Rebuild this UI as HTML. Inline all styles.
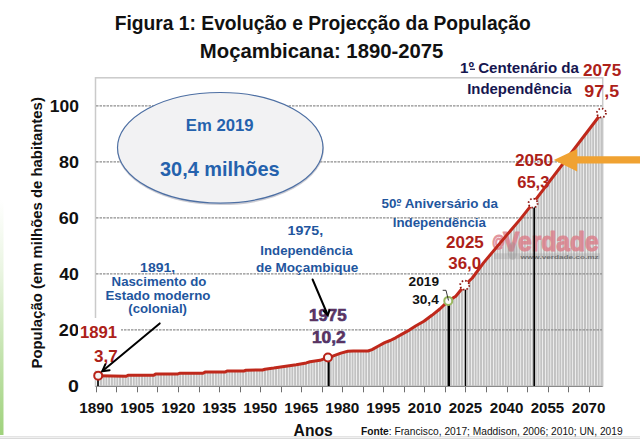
<!DOCTYPE html>
<html><head><meta charset="utf-8"><style>
html,body{margin:0;padding:0;background:#fff;}
body{width:640px;height:439px;overflow:hidden;position:relative;}
svg{position:absolute;left:0;top:0;}
text{font-family:"Liberation Sans",sans-serif;font-weight:bold;}
</style></head><body>
<svg width="640" height="439" viewBox="0 0 640 439">
<defs>
<linearGradient id="lg" x1="0" y1="0" x2="0" y2="1">
<stop offset="0" stop-color="#ffffff"/><stop offset="0.3" stop-color="#eaf5e2"/><stop offset="1" stop-color="#9fd27c"/>
</linearGradient>
</defs>
<rect x="0" y="200" width="3.5" height="235" fill="url(#lg)"/>
<rect x="0" y="436" width="640" height="1" fill="#e4e4e4"/><rect x="0" y="437" width="640" height="1" fill="#f0f0f0"/><rect x="0" y="438" width="640" height="1" fill="#dadada"/>
<text x="114.71" y="30" font-size="19.8" fill="#111" textLength="416.04" lengthAdjust="spacingAndGlyphs">Figura 1: Evolução e Projecção da População</text>
<text x="199.89" y="57.9" font-size="19.8" fill="#111" textLength="243.47" lengthAdjust="spacingAndGlyphs">Moçambicana: 1890-2075</text>
<rect x="95.5" y="77.8" width="507.2" height="308.2" fill="#fff" stroke="#cacaca" stroke-width="1.5"/>
<g fill="#c2c2c2">
<rect x="97.18" y="375.64" width="2.05" height="10.36"/>
<rect x="99.91" y="375.69" width="2.05" height="10.31"/>
<rect x="102.65" y="375.75" width="2.05" height="10.25"/>
<rect x="105.38" y="375.80" width="2.05" height="10.20"/>
<rect x="108.12" y="375.86" width="2.05" height="10.14"/>
<rect x="110.85" y="375.91" width="2.05" height="10.09"/>
<rect x="113.59" y="375.97" width="2.05" height="10.03"/>
<rect x="116.32" y="376.02" width="2.05" height="9.98"/>
<rect x="119.06" y="376.08" width="2.05" height="9.92"/>
<rect x="121.79" y="376.13" width="2.05" height="9.87"/>
<rect x="124.53" y="376.19" width="2.05" height="9.81"/>
<rect x="127.26" y="375.20" width="2.05" height="10.80"/>
<rect x="130.00" y="375.20" width="2.05" height="10.80"/>
<rect x="132.73" y="375.20" width="2.05" height="10.80"/>
<rect x="135.47" y="375.20" width="2.05" height="10.80"/>
<rect x="138.20" y="375.20" width="2.05" height="10.80"/>
<rect x="140.94" y="375.20" width="2.05" height="10.80"/>
<rect x="143.67" y="375.20" width="2.05" height="10.80"/>
<rect x="146.41" y="375.20" width="2.05" height="10.80"/>
<rect x="149.14" y="375.20" width="2.05" height="10.80"/>
<rect x="151.88" y="375.20" width="2.05" height="10.80"/>
<rect x="154.61" y="373.90" width="2.05" height="12.10"/>
<rect x="157.35" y="373.90" width="2.05" height="12.10"/>
<rect x="160.08" y="373.90" width="2.05" height="12.10"/>
<rect x="162.81" y="373.90" width="2.05" height="12.10"/>
<rect x="165.55" y="373.90" width="2.05" height="12.10"/>
<rect x="168.28" y="373.90" width="2.05" height="12.10"/>
<rect x="171.02" y="373.90" width="2.05" height="12.10"/>
<rect x="173.75" y="373.90" width="2.05" height="12.10"/>
<rect x="176.49" y="373.90" width="2.05" height="12.10"/>
<rect x="179.22" y="373.20" width="2.05" height="12.80"/>
<rect x="181.96" y="373.20" width="2.05" height="12.80"/>
<rect x="184.69" y="373.20" width="2.05" height="12.80"/>
<rect x="187.43" y="373.20" width="2.05" height="12.80"/>
<rect x="190.16" y="373.20" width="2.05" height="12.80"/>
<rect x="192.90" y="373.20" width="2.05" height="12.80"/>
<rect x="195.63" y="373.20" width="2.05" height="12.80"/>
<rect x="198.37" y="373.20" width="2.05" height="12.80"/>
<rect x="201.10" y="373.20" width="2.05" height="12.80"/>
<rect x="203.84" y="372.18" width="2.05" height="13.82"/>
<rect x="206.57" y="372.10" width="2.05" height="13.90"/>
<rect x="209.31" y="372.10" width="2.05" height="13.90"/>
<rect x="212.04" y="372.10" width="2.05" height="13.90"/>
<rect x="214.78" y="372.10" width="2.05" height="13.90"/>
<rect x="217.51" y="372.10" width="2.05" height="13.90"/>
<rect x="220.25" y="372.10" width="2.05" height="13.90"/>
<rect x="222.98" y="372.10" width="2.05" height="13.90"/>
<rect x="225.72" y="371.14" width="2.05" height="14.86"/>
<rect x="228.45" y="371.00" width="2.05" height="15.00"/>
<rect x="231.19" y="371.00" width="2.05" height="15.00"/>
<rect x="233.92" y="371.00" width="2.05" height="15.00"/>
<rect x="236.65" y="371.00" width="2.05" height="15.00"/>
<rect x="239.39" y="371.00" width="2.05" height="15.00"/>
<rect x="242.12" y="371.00" width="2.05" height="15.00"/>
<rect x="244.86" y="370.25" width="2.05" height="15.75"/>
<rect x="247.59" y="370.17" width="2.05" height="15.83"/>
<rect x="250.33" y="370.14" width="2.05" height="15.86"/>
<rect x="253.06" y="370.10" width="2.05" height="15.90"/>
<rect x="255.80" y="370.07" width="2.05" height="15.93"/>
<rect x="258.53" y="370.04" width="2.05" height="15.96"/>
<rect x="261.27" y="370.00" width="2.05" height="16.00"/>
<rect x="264.00" y="369.20" width="2.05" height="16.80"/>
<rect x="266.74" y="368.85" width="2.05" height="17.15"/>
<rect x="269.47" y="368.51" width="2.05" height="17.49"/>
<rect x="272.21" y="368.17" width="2.05" height="17.83"/>
<rect x="274.94" y="367.76" width="2.05" height="18.24"/>
<rect x="277.68" y="367.34" width="2.05" height="18.66"/>
<rect x="280.41" y="366.93" width="2.05" height="19.07"/>
<rect x="283.15" y="366.51" width="2.05" height="19.49"/>
<rect x="285.88" y="366.09" width="2.05" height="19.91"/>
<rect x="288.62" y="365.68" width="2.05" height="20.32"/>
<rect x="291.35" y="365.28" width="2.05" height="20.72"/>
<rect x="294.09" y="364.87" width="2.05" height="21.13"/>
<rect x="296.82" y="364.41" width="2.05" height="21.59"/>
<rect x="299.56" y="363.92" width="2.05" height="22.08"/>
<rect x="302.29" y="363.43" width="2.05" height="22.57"/>
<rect x="305.02" y="362.94" width="2.05" height="23.06"/>
<rect x="307.76" y="362.09" width="2.05" height="23.91"/>
<rect x="310.49" y="361.49" width="2.05" height="24.51"/>
<rect x="313.23" y="361.10" width="2.05" height="24.90"/>
<rect x="315.96" y="360.72" width="2.05" height="25.28"/>
<rect x="318.70" y="360.34" width="2.05" height="25.66"/>
<rect x="321.43" y="359.41" width="2.05" height="26.59"/>
<rect x="324.17" y="358.42" width="2.05" height="27.58"/>
<rect x="326.90" y="357.43" width="2.05" height="28.57"/>
<rect x="329.64" y="356.73" width="2.05" height="29.27"/>
<rect x="332.37" y="355.94" width="2.05" height="30.06"/>
<rect x="335.11" y="354.90" width="2.05" height="31.10"/>
<rect x="337.84" y="353.87" width="2.05" height="32.13"/>
<rect x="340.58" y="352.92" width="2.05" height="33.08"/>
<rect x="343.31" y="352.20" width="2.05" height="33.80"/>
<rect x="346.05" y="351.49" width="2.05" height="34.51"/>
<rect x="348.78" y="351.19" width="2.05" height="34.81"/>
<rect x="351.52" y="351.04" width="2.05" height="34.96"/>
<rect x="354.25" y="351.00" width="2.05" height="35.00"/>
<rect x="356.99" y="351.00" width="2.05" height="35.00"/>
<rect x="359.72" y="351.00" width="2.05" height="35.00"/>
<rect x="362.46" y="351.00" width="2.05" height="35.00"/>
<rect x="365.19" y="351.00" width="2.05" height="35.00"/>
<rect x="367.93" y="350.67" width="2.05" height="35.33"/>
<rect x="370.66" y="349.71" width="2.05" height="36.29"/>
<rect x="373.39" y="348.26" width="2.05" height="37.74"/>
<rect x="376.13" y="346.75" width="2.05" height="39.25"/>
<rect x="378.86" y="345.24" width="2.05" height="40.76"/>
<rect x="381.60" y="343.74" width="2.05" height="42.26"/>
<rect x="384.33" y="342.35" width="2.05" height="43.65"/>
<rect x="387.07" y="341.30" width="2.05" height="44.70"/>
<rect x="389.80" y="340.19" width="2.05" height="45.81"/>
<rect x="392.54" y="338.82" width="2.05" height="47.18"/>
<rect x="395.27" y="337.41" width="2.05" height="48.59"/>
<rect x="398.01" y="335.86" width="2.05" height="50.14"/>
<rect x="400.74" y="334.31" width="2.05" height="51.69"/>
<rect x="403.48" y="332.78" width="2.05" height="53.22"/>
<rect x="406.21" y="331.25" width="2.05" height="54.75"/>
<rect x="408.95" y="329.67" width="2.05" height="56.33"/>
<rect x="411.68" y="327.91" width="2.05" height="58.09"/>
<rect x="414.42" y="326.16" width="2.05" height="59.84"/>
<rect x="417.15" y="324.56" width="2.05" height="61.44"/>
<rect x="419.89" y="323.00" width="2.05" height="63.00"/>
<rect x="422.62" y="321.44" width="2.05" height="64.56"/>
<rect x="425.36" y="319.44" width="2.05" height="66.56"/>
<rect x="428.09" y="317.39" width="2.05" height="68.61"/>
<rect x="430.83" y="315.34" width="2.05" height="70.66"/>
<rect x="433.56" y="313.16" width="2.05" height="72.84"/>
<rect x="436.29" y="310.98" width="2.05" height="75.02"/>
<rect x="439.03" y="308.76" width="2.05" height="77.24"/>
<rect x="441.76" y="306.14" width="2.05" height="79.86"/>
<rect x="444.50" y="303.53" width="2.05" height="82.47"/>
<rect x="447.23" y="300.92" width="2.05" height="85.08"/>
<rect x="449.97" y="299.23" width="2.05" height="86.77"/>
<rect x="452.70" y="297.56" width="2.05" height="88.44"/>
<rect x="455.44" y="295.47" width="2.05" height="90.53"/>
<rect x="458.17" y="292.06" width="2.05" height="93.94"/>
<rect x="460.91" y="288.65" width="2.05" height="97.35"/>
<rect x="463.64" y="285.24" width="2.05" height="100.76"/>
<rect x="466.38" y="282.64" width="2.05" height="103.36"/>
<rect x="469.11" y="280.05" width="2.05" height="105.95"/>
<rect x="471.85" y="277.23" width="2.05" height="108.77"/>
<rect x="474.58" y="273.54" width="2.05" height="112.46"/>
<rect x="477.32" y="269.85" width="2.05" height="116.15"/>
<rect x="480.05" y="266.17" width="2.05" height="119.83"/>
<rect x="482.79" y="262.53" width="2.05" height="123.47"/>
<rect x="485.52" y="259.25" width="2.05" height="126.75"/>
<rect x="488.26" y="255.98" width="2.05" height="130.02"/>
<rect x="490.99" y="252.70" width="2.05" height="133.30"/>
<rect x="493.73" y="249.43" width="2.05" height="136.57"/>
<rect x="496.46" y="246.15" width="2.05" height="139.85"/>
<rect x="499.20" y="242.88" width="2.05" height="143.12"/>
<rect x="501.93" y="239.60" width="2.05" height="146.40"/>
<rect x="504.66" y="236.33" width="2.05" height="149.67"/>
<rect x="507.40" y="233.10" width="2.05" height="152.90"/>
<rect x="510.13" y="229.88" width="2.05" height="156.12"/>
<rect x="512.87" y="226.67" width="2.05" height="159.33"/>
<rect x="515.60" y="223.45" width="2.05" height="162.55"/>
<rect x="518.34" y="220.23" width="2.05" height="165.77"/>
<rect x="521.07" y="216.84" width="2.05" height="169.16"/>
<rect x="523.81" y="213.41" width="2.05" height="172.59"/>
<rect x="526.54" y="209.98" width="2.05" height="176.02"/>
<rect x="529.28" y="206.54" width="2.05" height="179.46"/>
<rect x="532.01" y="203.11" width="2.05" height="182.89"/>
<rect x="534.75" y="199.52" width="2.05" height="186.48"/>
<rect x="537.48" y="195.92" width="2.05" height="190.08"/>
<rect x="540.22" y="192.33" width="2.05" height="193.67"/>
<rect x="542.95" y="188.73" width="2.05" height="197.27"/>
<rect x="545.69" y="185.14" width="2.05" height="200.86"/>
<rect x="548.42" y="181.54" width="2.05" height="204.46"/>
<rect x="551.16" y="177.95" width="2.05" height="208.05"/>
<rect x="553.89" y="174.36" width="2.05" height="211.64"/>
<rect x="556.63" y="170.76" width="2.05" height="215.24"/>
<rect x="559.36" y="167.17" width="2.05" height="218.83"/>
<rect x="562.10" y="163.57" width="2.05" height="222.43"/>
<rect x="564.83" y="159.98" width="2.05" height="226.02"/>
<rect x="567.57" y="156.38" width="2.05" height="229.62"/>
<rect x="570.30" y="152.79" width="2.05" height="233.21"/>
<rect x="573.03" y="149.20" width="2.05" height="236.80"/>
<rect x="575.77" y="145.60" width="2.05" height="240.40"/>
<rect x="578.50" y="142.01" width="2.05" height="243.99"/>
<rect x="581.24" y="138.41" width="2.05" height="247.59"/>
<rect x="583.97" y="134.82" width="2.05" height="251.18"/>
<rect x="586.71" y="131.22" width="2.05" height="254.78"/>
<rect x="589.44" y="127.63" width="2.05" height="258.37"/>
<rect x="592.18" y="124.04" width="2.05" height="261.96"/>
<rect x="594.91" y="120.44" width="2.05" height="265.56"/>
<rect x="597.65" y="116.85" width="2.05" height="269.15"/>
<rect x="600.38" y="113.25" width="2.05" height="272.75"/>
</g>
<g stroke="#8e8e8e" stroke-width="1.2" stroke-dasharray="2.5,1"><line x1="96" y1="329.8" x2="602" y2="329.8"/><line x1="96" y1="273.8" x2="602" y2="273.8"/><line x1="96" y1="217.8" x2="602" y2="217.8"/><line x1="96" y1="161.8" x2="602" y2="161.8"/><line x1="96" y1="105.8" x2="602" y2="105.8"/></g>
<line x1="95.5" y1="386.5" x2="602.7" y2="386.5" stroke="#8a8a8a" stroke-width="1"/>
<g stroke="#6e6e6e" stroke-width="1"><line x1="96.5" y1="387" x2="96.5" y2="392.3"/><line x1="116.5" y1="387" x2="116.5" y2="392.3"/><line x1="137.5" y1="387" x2="137.5" y2="392.3"/><line x1="157.5" y1="387" x2="157.5" y2="392.3"/><line x1="178.5" y1="387" x2="178.5" y2="392.3"/><line x1="199.5" y1="387" x2="199.5" y2="392.3"/><line x1="219.5" y1="387" x2="219.5" y2="392.3"/><line x1="240.5" y1="387" x2="240.5" y2="392.3"/><line x1="260.5" y1="387" x2="260.5" y2="392.3"/><line x1="281.5" y1="387" x2="281.5" y2="392.3"/><line x1="301.5" y1="387" x2="301.5" y2="392.3"/><line x1="322.5" y1="387" x2="322.5" y2="392.3"/><line x1="342.5" y1="387" x2="342.5" y2="392.3"/><line x1="363.5" y1="387" x2="363.5" y2="392.3"/><line x1="383.5" y1="387" x2="383.5" y2="392.3"/><line x1="404.5" y1="387" x2="404.5" y2="392.3"/><line x1="424.5" y1="387" x2="424.5" y2="392.3"/><line x1="445.5" y1="387" x2="445.5" y2="392.3"/><line x1="465.5" y1="387" x2="465.5" y2="392.3"/><line x1="486.5" y1="387" x2="486.5" y2="392.3"/><line x1="507.5" y1="387" x2="507.5" y2="392.3"/><line x1="527.5" y1="387" x2="527.5" y2="392.3"/><line x1="548.5" y1="387" x2="548.5" y2="392.3"/><line x1="568.5" y1="387" x2="568.5" y2="392.3"/><line x1="589.5" y1="387" x2="589.5" y2="392.3"/></g>
<g fill="#111"><text x="79.28" y="413.3" font-size="15.2" textLength="34.09" lengthAdjust="spacingAndGlyphs">1890</text><text x="120.29" y="413.3" font-size="15.2" textLength="33.88" lengthAdjust="spacingAndGlyphs">1905</text><text x="161.28" y="413.3" font-size="15.2" textLength="34.09" lengthAdjust="spacingAndGlyphs">1920</text><text x="202.29" y="413.3" font-size="15.2" textLength="33.88" lengthAdjust="spacingAndGlyphs">1935</text><text x="243.28" y="413.3" font-size="15.2" textLength="34.09" lengthAdjust="spacingAndGlyphs">1950</text><text x="284.29" y="413.3" font-size="15.2" textLength="33.88" lengthAdjust="spacingAndGlyphs">1965</text><text x="325.28" y="413.3" font-size="15.2" textLength="34.09" lengthAdjust="spacingAndGlyphs">1980</text><text x="366.29" y="413.3" font-size="15.2" textLength="33.88" lengthAdjust="spacingAndGlyphs">1995</text><text x="407.73" y="413.3" font-size="15.2" textLength="33.64" lengthAdjust="spacingAndGlyphs">2010</text><text x="448.73" y="413.3" font-size="15.2" textLength="33.44" lengthAdjust="spacingAndGlyphs">2025</text><text x="489.73" y="413.3" font-size="15.2" textLength="33.64" lengthAdjust="spacingAndGlyphs">2040</text><text x="530.73" y="413.3" font-size="15.2" textLength="33.44" lengthAdjust="spacingAndGlyphs">2055</text><text x="571.73" y="413.3" font-size="15.2" textLength="33.64" lengthAdjust="spacingAndGlyphs">2070</text></g>
<g fill="#111"><text x="68.13" y="391.9" font-size="16.2" textLength="10.88" lengthAdjust="spacingAndGlyphs">0</text><text x="58.87" y="335.9" font-size="16.2" textLength="20.07" lengthAdjust="spacingAndGlyphs">20</text><text x="59.23" y="279.9" font-size="16.2" textLength="19.69" lengthAdjust="spacingAndGlyphs">40</text><text x="58.84" y="223.9" font-size="16.2" textLength="20.10" lengthAdjust="spacingAndGlyphs">60</text><text x="58.93" y="167.9" font-size="16.2" textLength="20.01" lengthAdjust="spacingAndGlyphs">80</text><text x="49.80" y="111.9" font-size="16.2" textLength="29.11" lengthAdjust="spacingAndGlyphs">100</text></g>
<text transform="translate(41.9,232.7) rotate(-90)" x="-135.80" y="0" font-size="15.2" fill="#111" textLength="271.34" lengthAdjust="spacingAndGlyphs">População (em milhões de habitantes)</text>
<text x="293.61" y="436" font-size="16" fill="#111" textLength="39.03" lengthAdjust="spacingAndGlyphs">Anos</text>
<text x="361" y="434.7" font-size="10.5" fill="#111" textLength="261.6" lengthAdjust="spacingAndGlyphs">Fonte<tspan font-weight="normal">: Francisco, 2017; Maddison, 2006; 2010; UN, 2019</tspan></text>
<g opacity="0.8" fill="#dc7c88" stroke="#dc7c88" stroke-width="1.1" stroke-linejoin="round">
<text x="492.2" y="247.3" font-size="15.7" textLength="12.6" lengthAdjust="spacingAndGlyphs">@</text>
<text x="503" y="250.6" font-size="27.2" textLength="95.8" lengthAdjust="spacingAndGlyphs">Verdade</text>
</g>
<rect x="494" y="253.3" width="106" height="5.8" fill="#808080" opacity="0.22"/>
<ellipse cx="512.5" cy="251" rx="5" ry="9" fill="#909090" opacity="0.3"/>
<text x="520.6" y="258.6" font-size="6.2" fill="#555" opacity="0.75" textLength="78" lengthAdjust="spacingAndGlyphs">www.verdade.co.mz</text>
<rect x="78" y="318" width="43" height="52.5" fill="#fff"/>
<g stroke="#000">
<line x1="98.00" y1="378" x2="98.00" y2="386" stroke-width="1.6"/>
<line x1="328.7" y1="360" x2="328.7" y2="386" stroke-width="2"/>
<line x1="448.8" y1="304" x2="448.8" y2="386" stroke-width="2.4"/>
<line x1="465.5" y1="288" x2="465.5" y2="386" stroke-width="1.3"/>
<line x1="534.2" y1="206" x2="534.2" y2="386" stroke-width="1.6"/>
</g>
<ellipse cx="220.5" cy="149" rx="102.6" ry="55.3" fill="none" stroke="#9a9aa8" stroke-width="1.6" opacity="0.5"/>
<ellipse cx="220.25" cy="147.8" rx="102.75" ry="55.3" fill="#f2f2f3" stroke="#4d6fa3" stroke-width="1.2"/>
<text x="185.88" y="130.9" font-size="16.5" fill="#2562ad" textLength="67.74" lengthAdjust="spacingAndGlyphs">Em 2019</text>
<text x="160.04" y="176.3" font-size="21" fill="#2562ad" textLength="119.57" lengthAdjust="spacingAndGlyphs">30,4 milhões</text>
<g fill="#1f569e">
<text x="140.12" y="272" font-size="13.5" textLength="35.02" lengthAdjust="spacingAndGlyphs">1891,</text>
<text x="111.62" y="285.6" font-size="13.5" textLength="94.80" lengthAdjust="spacingAndGlyphs">Nascimento do</text>
<text x="105.51" y="299.8" font-size="13.5" textLength="104.91" lengthAdjust="spacingAndGlyphs">Estado moderno</text>
<text x="128.24" y="313" font-size="13.5" textLength="58.72" lengthAdjust="spacingAndGlyphs">(colonial)</text>
<text x="287.50" y="235.4" font-size="13.5" textLength="35.65" lengthAdjust="spacingAndGlyphs">1975,</text>
<text x="260.37" y="254.5" font-size="13.5" textLength="92.30" lengthAdjust="spacingAndGlyphs">Independência</text>
<text x="256.05" y="271.5" font-size="13.5" textLength="102.22" lengthAdjust="spacingAndGlyphs">de Moçambique</text>
<text x="381.59" y="208" font-size="13.5" textLength="116.33" lengthAdjust="spacingAndGlyphs">50º Aniversário da</text>
<text x="392.71" y="227" font-size="13.5" textLength="93.21" lengthAdjust="spacingAndGlyphs">Independência</text>
</g>
<g fill="#161650">
<text x="460.05" y="73" font-size="15.5" textLength="118.96" lengthAdjust="spacingAndGlyphs">1º Centenário da</text>
<text x="467.20" y="93.5" font-size="15.5" textLength="104.40" lengthAdjust="spacingAndGlyphs">Independência</text>
</g>
<rect x="470" y="68.6" width="5" height="1.3" fill="#161650"/>
<rect x="396.8" y="204.6" width="3.6" height="1.2" fill="#1f569e"/>
<g fill="#ad2119">
<text x="79.95" y="338.4" font-size="16" textLength="37.12" lengthAdjust="spacingAndGlyphs">1891</text>
<text x="94.01" y="361.5" font-size="16" textLength="23.64" lengthAdjust="spacingAndGlyphs">3,7</text>
<text x="446.01" y="247.8" font-size="16" textLength="37.76" lengthAdjust="spacingAndGlyphs">2025</text>
<text x="448.36" y="269.2" font-size="16" textLength="32.83" lengthAdjust="spacingAndGlyphs">36,0</text>
<text x="514.90" y="165.7" font-size="16" textLength="38.30" lengthAdjust="spacingAndGlyphs">2050</text>
<text x="517.19" y="187.9" font-size="16" textLength="32.20" lengthAdjust="spacingAndGlyphs">65,3</text>
<text x="583.01" y="75.5" font-size="16" textLength="38.17" lengthAdjust="spacingAndGlyphs">2075</text>
<text x="584.38" y="96.8" font-size="16" textLength="34.71" lengthAdjust="spacingAndGlyphs">97,5</text>
</g>
<g fill="#6a2f55" stroke="#3c3b7a" stroke-width="0.6">
<text x="309.03" y="320.5" font-size="16" textLength="37.64" lengthAdjust="spacingAndGlyphs">1975</text>
<text x="311.90" y="343" font-size="16" textLength="33.89" lengthAdjust="spacingAndGlyphs">10,2</text>
</g>
<g fill="#111">
<text x="408.63" y="285.6" font-size="12.5" textLength="30.38" lengthAdjust="spacingAndGlyphs">2019</text>
<text x="412.19" y="304.1" font-size="12.5" textLength="26.59" lengthAdjust="spacingAndGlyphs">30,4</text>
</g>
<path d="M98.20,375.64 L126.30,376.20 L128.00,375.20 L153.75,375.20 L155.60,373.90 L178.00,373.90 L180.00,373.20 L203.00,373.20 L205.00,372.10 L225.00,372.10 L227.00,371.00 L244.00,371.00 L246.00,370.20 L262.50,370.00 L265.00,369.20 L273.75,368.10 L287.50,366.00 L296.25,364.70 L306.25,362.90 L310.00,361.70 L320.00,360.30 L327.90,357.44 L332.70,356.20 L340.90,353.10 L347.80,351.30 L353.20,351.00 L368.00,351.00 L372.00,349.60 L378.50,346.00 L384.70,342.60 L390.20,340.50 L395.60,337.80 L402.50,333.90 L409.30,330.10 L416.00,325.80 L423.90,321.30 L431.90,315.30 L439.80,309.00 L448.30,300.88 L455.80,296.30 L464.70,285.20 L472.30,278.00 L483.50,262.90 L506.30,235.60 L519.90,219.60 L533.00,203.16 L601.60,113.00" fill="none" stroke="#bf281b" stroke-width="3" stroke-linejoin="round"/>
<circle cx="98.20" cy="375.64" r="4" fill="#f4f4f4" stroke="#b82218" stroke-width="2"/>
<circle cx="327.93" cy="357.44" r="4" fill="#f4f4f4" stroke="#b82218" stroke-width="2"/>
<circle cx="448.26" cy="300.88" r="4" fill="#fafafa" stroke="#9ab860" stroke-width="2"/>
<circle cx="464.67" cy="285.20" r="4.5" fill="#fff" stroke="#8e1813" stroke-width="1.8" stroke-dasharray="1.5,2.03"/>
<circle cx="533.04" cy="203.16" r="4.5" fill="#fff" stroke="#8e1813" stroke-width="1.8" stroke-dasharray="1.5,2.03"/>
<circle cx="601.41" cy="113.00" r="4.5" fill="#fff" stroke="#8e1813" stroke-width="1.8" stroke-dasharray="1.5,2.03"/>
<polyline points="442.7,290.3 446,290.3 448.5,300.5" fill="none" stroke="#222" stroke-width="0.9"/>
<g stroke="#000" stroke-width="2" fill="none" stroke-linecap="round">
<line x1="159.7" y1="323.4" x2="102.5" y2="371"/>
<polyline points="105.3,364.4 102.3,371.2 109.6,370.2"/>
<line x1="312.6" y1="279.5" x2="327.5" y2="314.5"/>
<polyline points="323.8,311 327.8,315.4 329.5,310.2"/>
</g>
<polygon points="553.8,160 577.2,149 577.2,156.3 640,156.3 640,163.6 577.2,163.6 577.2,171.4" fill="#f0a232"/>
</svg>
</body></html>
